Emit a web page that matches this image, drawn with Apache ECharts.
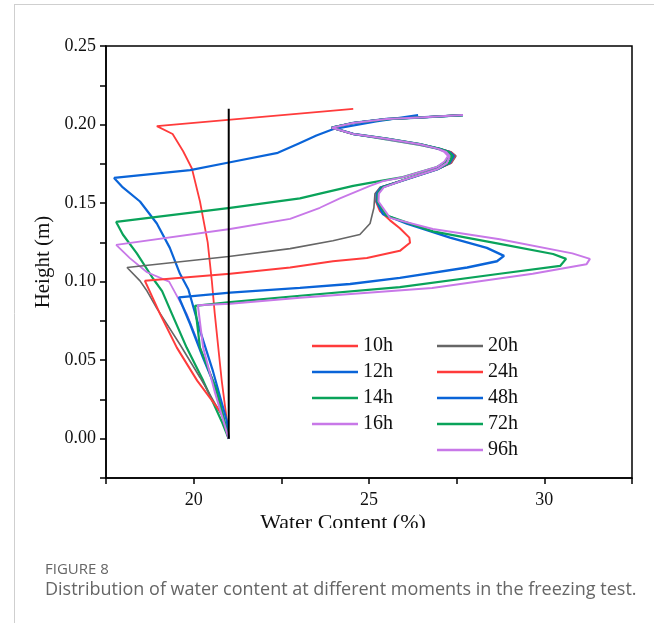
<!DOCTYPE html>
<html>
<head>
<meta charset="utf-8">
<script src="https://cdn.jsdelivr.net/npm/echarts@6/dist/echarts.min.js"></script>
<style>
html,body{margin:0;padding:0;background:#fff;}
#c{width:654px;height:623px;}
</style>
</head>
<body>
<div id="c"></div>
<script>
// ---- data: [water content %, height m] ----
const xTicks = [20, 25, 30];
const yTicks = [0.00, 0.05, 0.10, 0.15, 0.20, 0.25];
const legendLeft = ['10h', '12h', '14h', '16h'];
const legendRight = ['20h', '24h', '48h', '72h', '96h'];
const initialLine = [[21, 0], [21, 0.21]];

const s10h = [[21,0],[20.95,0.011],[20.8,0.037],[20.6,0.08],[20.52,0.1],[20.4,0.125],[20.18,0.151],[19.95,0.172],[19.7,0.183],[19.4,0.194],[18.95,0.199],[24.55,0.21]];
const s12h = [[21,0],[20.95,0.011],[20.55,0.043],[20.18,0.069],[19.85,0.095],[19.61,0.105],[19.32,0.1215],[18.95,0.137],[18.47,0.151],[17.98,0.16],[17.73,0.166],[19.9,0.171],[21.04,0.176],[22.4,0.182],[23.0,0.188],[23.5,0.193],[23.97,0.197],[25.2,0.202],[26.4,0.206]];
const s14h = [[21,0],[20.8,0.011],[20.27,0.037],[19.8,0.058],[19.38,0.0795],[19.1,0.094],[18.84,0.102],[18.38,0.118],[17.98,0.13],[17.79,0.138],[21.04,0.147],[23.03,0.153],[23.6,0.156],[24.55,0.161],[25.3,0.164],[25.97,0.1665],[26.94,0.173],[27.2,0.1765],[27.32,0.18],[27.2,0.1825],[27.0,0.1845],[26.45,0.187],[25.5,0.1905],[24.55,0.194],[23.94,0.198],[24.55,0.201],[25.5,0.2035],[26.45,0.2045],[27.68,0.206]];
const s16h = [[21,0],[20.55,0.037],[20.18,0.058],[19.8,0.0795],[19.3,0.1],[18.67,0.106],[18.18,0.115],[17.79,0.1234],[21.04,0.1335],[22.75,0.14],[23.6,0.147],[24.17,0.153],[25.03,0.161],[25.4,0.164],[25.97,0.1665],[26.94,0.173],[27.15,0.1765],[27.25,0.18],[27.15,0.1825],[26.95,0.1845],[26.45,0.187],[25.5,0.1905],[24.55,0.194],[23.94,0.198],[24.55,0.201],[25.5,0.2035],[26.45,0.2045],[27.68,0.206]];
const s20h = [[21,0],[20.84,0.0134],[20.18,0.039],[19.61,0.06],[18.95,0.083],[18.67,0.094],[18.47,0.1005],[18.1,0.109],[21.0,0.116],[22.75,0.121],[23.97,0.126],[24.74,0.13],[25.03,0.137],[25.14,0.147],[25.17,0.156],[25.31,0.16],[25.97,0.1645],[26.94,0.1715],[27.35,0.1755],[27.48,0.18],[27.35,0.1825],[27.02,0.1845],[26.45,0.1875],[25.5,0.191],[24.55,0.194],[23.94,0.198],[24.55,0.201],[25.5,0.2035],[26.45,0.2045],[27.68,0.206]];
const s24h = [[21,0],[20.8,0.016],[20.1,0.037],[19.52,0.058],[19.04,0.0795],[18.61,0.1005],[21.04,0.105],[22.75,0.109],[23.97,0.113],[24.94,0.1151],[25.88,0.1196],[26.17,0.1247],[26.15,0.128],[25.88,0.134],[25.6,0.139],[25.31,0.145],[25.2,0.151],[25.22,0.156],[25.35,0.16],[25.97,0.1645],[26.94,0.1715],[27.33,0.1755],[27.45,0.18],[27.33,0.1825],[27.02,0.1845],[26.45,0.1875],[25.5,0.191],[24.55,0.194],[23.94,0.198],[24.55,0.201],[25.5,0.2035],[26.45,0.2045],[27.68,0.206]];
const s48h = [[21,0],[20.66,0.0305],[20.27,0.0515],[19.9,0.073],[19.58,0.09],[21.04,0.093],[23.03,0.096],[24.46,0.0985],[25.88,0.1024],[27.8,0.109],[28.65,0.113],[28.85,0.1164],[28.36,0.1215],[27.31,0.128],[26.08,0.137],[25.4,0.143],[25.22,0.151],[25.22,0.156],[25.35,0.16],[25.97,0.1645],[26.94,0.1715],[27.3,0.1755],[27.42,0.18],[27.3,0.1825],[27.02,0.1845],[26.45,0.1875],[25.5,0.191],[24.55,0.194],[23.94,0.198],[24.55,0.201],[25.5,0.2035],[26.45,0.2045],[27.68,0.206]];
const s72h = [[21,0],[20.66,0.0305],[20.18,0.058],[20.04,0.0846],[21.04,0.087],[23.03,0.091],[25.88,0.0965],[28.73,0.105],[30.45,0.11],[30.62,0.1145],[30.25,0.1176],[28.73,0.124],[26.82,0.132],[25.5,0.142],[25.24,0.151],[25.25,0.156],[25.38,0.16],[25.97,0.1645],[26.94,0.1715],[27.28,0.1755],[27.38,0.18],[27.28,0.1825],[27.02,0.1845],[26.45,0.1875],[25.5,0.191],[24.55,0.194],[23.94,0.198],[24.55,0.201],[25.5,0.2035],[26.45,0.2045],[27.68,0.206]];
const s96h = [[21,0],[20.6,0.03],[20.27,0.058],[20.12,0.085],[21.04,0.086],[23.03,0.0897],[26.8,0.096],[29.67,0.105],[31.2,0.111],[31.3,0.1145],[30.8,0.118],[28.73,0.127],[26.82,0.1335],[25.6,0.1406],[25.27,0.151],[25.28,0.156],[25.42,0.16],[25.97,0.1645],[26.94,0.1715],[27.22,0.1755],[27.3,0.18],[27.2,0.1825],[26.98,0.1845],[26.45,0.1875],[25.5,0.191],[24.55,0.194],[23.94,0.198],[24.55,0.201],[25.5,0.2035],[26.45,0.2045],[27.68,0.206]];

const seriesNames = ['10h','12h','14h','16h','20h','24h','48h','72h','96h'];
const seriesData = [s10h,s12h,s14h,s16h,s20h,s24h,s48h,s72h,s96h];
const seriesColors = ['#ff3b3b','#0a64d8','#0aa35a','#c878e8','#666666','#ff3b3b','#0a64d8','#0aa35a','#c878e8'];
const seriesWidths = [1.8,2.2,2.2,1.8,1.6,2,2.4,2.2,2];

const chart = echarts.init(document.getElementById('c'), null, {renderer:'canvas'});
const serif = 'Liberation Serif';

const series = seriesNames.map((n,i)=>({
  name:n, type:'line', data:seriesData[i], symbol:'none', showSymbol:false, smooth:false,
  lineStyle:{color:seriesColors[i], width:seriesWidths[i]},
  itemStyle:{color:seriesColors[i]}, z:2+i, animation:false
}));
series.push({name:'initial', type:'line', data:initialLine, symbol:'none',
  lineStyle:{color:'#000', width:2}, z:20, animation:false});

function legendData(names){
  return names.map(n=>{const i=seriesNames.indexOf(n); return {name:n, itemStyle:{color:seriesColors[i]}};});
}
const legendCommon = {
  orient:'vertical', itemWidth:46, itemHeight:2.5, itemGap:6, padding:0,
  icon:'rect',
  textStyle:{fontFamily:serif, fontSize:20, color:'#111', lineHeight:14, padding:[0,0,0,0]},
  selectedMode:false
};

chart.setOption({
  animation:false,
  backgroundColor:'#fff',
  grid:{left:106, top:46, width:526, height:432, show:true, borderColor:'#000', borderWidth:1.5, backgroundColor:'transparent'},
  xAxis:{type:'value', min:17.5, max:32.5, interval:2.5,
    axisLine:{show:true, lineStyle:{color:'#000', width:1.5}, onZero:false},
    axisTick:{show:true, inside:false, length:6, lineStyle:{color:'#000', width:1.5}},
    splitLine:{show:false},
    axisLabel:{margin:13, fontFamily:serif, fontSize:18, color:'#111',
      formatter:v=> xTicks.includes(Math.round(v*100)/100) ? String(Math.round(v)) : ''}},
  yAxis:{type:'value', min:-0.025, max:0.25, interval:0.025,
    axisLine:{show:true, lineStyle:{color:'#000', width:1.5}, onZero:false},
    axisTick:{show:true, inside:false, length:6, lineStyle:{color:'#000', width:1.5}},
    splitLine:{show:false},
    axisLabel:{margin:10, fontFamily:serif, fontSize:18, color:'#111',
      formatter:v=> yTicks.some(t=>Math.abs(t-v)<1e-6) ? v.toFixed(2) : ''},
    name:'Height (m)', nameLocation:'middle', nameGap:47, nameRotate:90,
    nameTextStyle:{fontFamily:serif, fontSize:21, color:'#111'}},
  legend:[
    Object.assign({}, legendCommon, {left:312, top:336, data:legendData(legendLeft)}),
    Object.assign({}, legendCommon, {left:437, top:336, data:legendData(legendRight)})
  ],
  series:series,
  graphic:[
    {type:'text', x:343, y:512, style:{text:'Water Content (%)', fontFamily:serif, fontSize:22, fill:'#111', textAlign:'center', textVerticalAlign:'top'}, z:50},
    {type:'rect', shape:{x:100, y:528, width:500, height:22}, style:{fill:'#fff'}, z:100},
    {type:'line', shape:{x1:14, y1:4.5, x2:654, y2:4.5}, style:{stroke:'#cfcfcf', lineWidth:1}, z:100},
    {type:'line', shape:{x1:14.5, y1:4, x2:14.5, y2:623}, style:{stroke:'#cfcfcf', lineWidth:1}, z:100},
    {type:'text', left:45, top:562, style:{text:'FIGURE 8', fontFamily:'Open Sans', fontSize:15, fill:'#666'}, z:100},
    {type:'text', left:45, top:581, style:{text:'Distribution of water content at different moments in the freezing test.', fontFamily:'Open Sans', fontSize:18, fill:'#666'}, z:100}
  ]
});
</script>
</body>
</html>
